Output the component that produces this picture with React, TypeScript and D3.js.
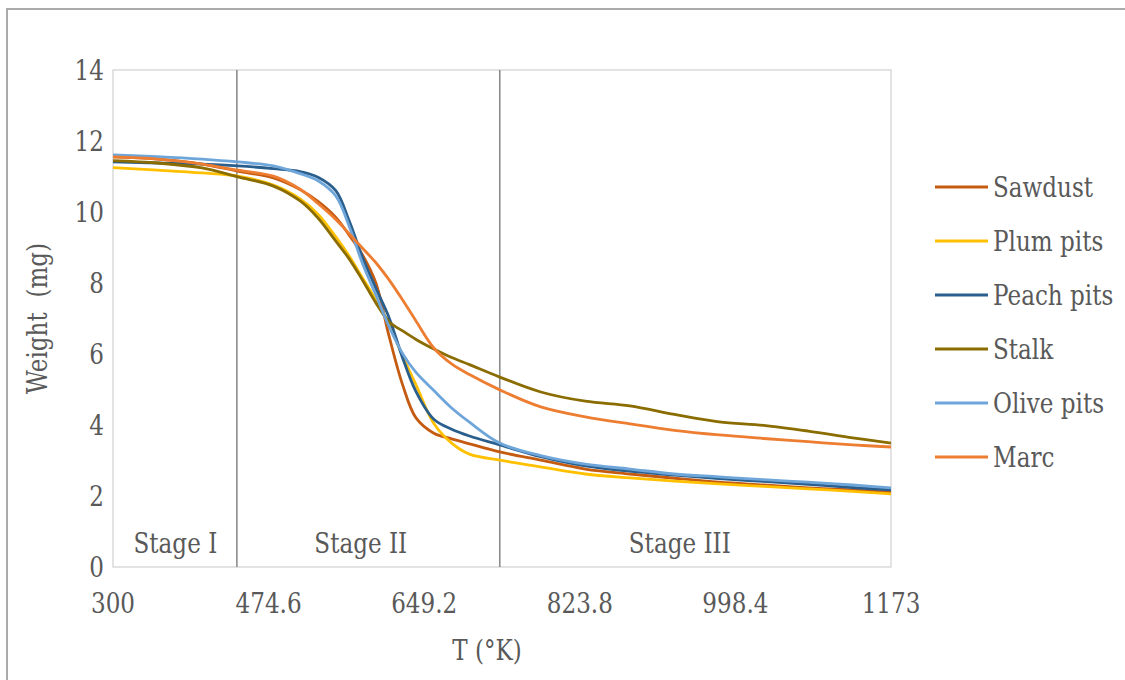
import React from "react";
import * as d3 from "d3";

// temperature grid (K) shared by all samples
const temps = [300, 350, 400, 440, 480, 510, 530, 550, 565, 580, 595, 610, 625, 640, 660, 680, 700, 734, 780, 830, 880, 930, 980, 1030, 1080, 1130, 1173];

const sawdust = [11.55, 11.49, 11.35, 11.15, 10.96, 10.63, 10.3, 9.85, 9.35, 8.79, 8.0, 6.48, 5.13, 4.2, 3.77, 3.61, 3.47, 3.24, 3.01, 2.76, 2.62, 2.5, 2.39, 2.31, 2.23, 2.17, 2.11];
const plumPits = [11.25, 11.18, 11.1, 11.01, 10.76, 10.37, 9.94, 9.3, 8.76, 8.14, 7.52, 6.82, 5.94, 5.13, 4.04, 3.49, 3.18, 3.01, 2.82, 2.62, 2.51, 2.42, 2.34, 2.27, 2.2, 2.13, 2.06];
const peachPits = [11.41, 11.38, 11.35, 11.3, 11.22, 11.14, 10.98, 10.6, 9.75, 8.72, 7.85, 7.01, 5.89, 4.94, 4.16, 3.88, 3.69, 3.44, 3.11, 2.85, 2.7, 2.59, 2.49, 2.41, 2.33, 2.24, 2.17];
const stalk = [11.45, 11.38, 11.24, 10.99, 10.73, 10.31, 9.83, 9.18, 8.68, 8.08, 7.44, 6.9, 6.65, 6.41, 6.14, 5.9, 5.7, 5.35, 4.93, 4.67, 4.54, 4.3, 4.09, 3.99, 3.83, 3.64, 3.49];
const olivePits = [11.61, 11.56, 11.49, 11.41, 11.3, 11.08, 10.88, 10.45, 9.6, 8.55, 7.66, 6.76, 6.01, 5.48, 4.97, 4.48, 4.08, 3.49, 3.14, 2.9, 2.76, 2.62, 2.54, 2.46, 2.39, 2.31, 2.23];
const marc = [11.55, 11.49, 11.35, 11.18, 11.01, 10.64, 10.24, 9.79, 9.39, 8.98, 8.57, 8.08, 7.52, 6.93, 6.17, 5.72, 5.42, 4.99, 4.51, 4.23, 4.03, 3.85, 3.72, 3.62, 3.53, 3.44, 3.38];

const seriesNames = ["Sawdust", "Plum pits", "Peach pits", "Stalk", "Olive pits", "Marc"];
const seriesValues = [sawdust, plumPits, peachPits, stalk, olivePits, marc];
const seriesColors = ["#c55a11", "#ffc000", "#2a5e8c", "#8a6c00", "#6fa6da", "#ed7d31"];

const xTicks = [300, 474.6, 649.2, 823.8, 998.4, 1173];
const yTicks = [0, 2, 4, 6, 8, 10, 12, 14];

// stage boundaries and label centres (K)
const stageBounds = [439, 734];
const stageLabels = ["Stage I", "Stage II", "Stage III"];
const stageLabelAt = [370, 578, 936];

// only DejaVu Serif is available as a serif face, squeeze it to Times widths
const txt: React.CSSProperties = {
  fontFamily: '"DejaVu Serif", serif',
  fontSize: "27.5px",
  fill: "#595959",
};

const Label = ({ x, y, anchor = "start", rotate = false, children }: any) => (
  <text
    transform={`translate(${x},${y})${rotate ? " rotate(-90)" : ""} scale(0.84,1)`}
    textAnchor={anchor}
    style={{ ...txt, whiteSpace: "pre" }}
  >
    {children}
  </text>
);

const App = () => {
  const left = 113, right = 891, top = 70, bottom = 567;

  const x = d3.scaleLinear().domain([300, 1173]).range([left, right]);
  const y = d3.scaleLinear().domain([0, 14]).range([bottom, top]);

  const line = d3
    .line<number>()
    .x((d, i) => x(temps[i]))
    .y((d) => y(d))
    .curve(d3.curveCatmullRom.alpha(0.5));

  return (
    <svg width={1125} height={680} style={{ position: "absolute", left: 0, top: 0, background: "#fff" }}>
      {/* outer frame */}
      <rect x={7} y={9} width={1200} height={760} fill="#fff" stroke="#ababab" strokeWidth={2} />
      {/* plot area */}
      <rect x={left} y={top} width={right - left} height={bottom - top} fill="none" stroke="#d0d0d0" strokeWidth={1.2} />
      {stageBounds.map((t) => (
        <line key={t} x1={x(t)} x2={x(t)} y1={top} y2={bottom} stroke="#8c8c8c" strokeWidth={1.6} />
      ))}
      {seriesValues.map((vals, i) => (
        <path key={seriesNames[i]} d={line(vals) || ""} fill="none" stroke={seriesColors[i]} strokeWidth={2.8} strokeLinejoin="round" />
      ))}

      {stageLabels.map((s, i) => (
        <Label key={s} x={x(stageLabelAt[i])} y={553} anchor="middle">
          {s}
        </Label>
      ))}
      {yTicks.map((v) => (
        <Label key={v} x={104} y={y(v) + 10} anchor="end">
          {v}
        </Label>
      ))}
      {xTicks.map((v) => (
        <Label key={v} x={x(v)} y={613} anchor="middle">
          {v}
        </Label>
      ))}

      <Label x={487} y={660} anchor="middle">
        T (°K)
      </Label>
      <Label x={47} y={(top + bottom) / 2} anchor="middle" rotate>
        {"Weight  (mg)"}
      </Label>

      {/* legend */}
      {seriesNames.map((n, i) => {
        const ly = 187 + i * 54;
        return (
          <g key={n}>
            <line x1={935} x2={988} y1={ly} y2={ly} stroke={seriesColors[i]} strokeWidth={2.8} />
            <Label x={993} y={ly + 10}>
              {n}
            </Label>
          </g>
        );
      })}
    </svg>
  );
};

export default App;
